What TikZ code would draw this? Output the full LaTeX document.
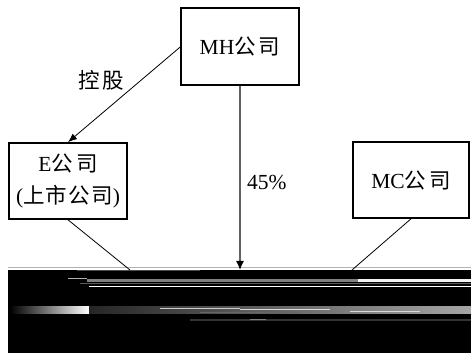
\documentclass[tikz,border=0pt]{standalone}
\usepackage{fontspec}
\setmainfont{Liberation Serif}
\newfontfamily\cjkfont{Noto Sans CJK SC}
\newcommand\zhtext[1]{{\cjkfont #1}}
\newcommand\zsp{\hspace{3pt}}
\newcommand\zss{\hspace{1.2pt}}
\usetikzlibrary{arrows.meta}
\begin{document}
\begin{tikzpicture}[x=1pt,y=-1pt,
  box/.style={draw, line width=1.6pt, inner sep=0pt, align=center,
    font=\fontsize{21.5}{32}\selectfont},
  conn/.style={draw, line width=0.8pt},
  tip/.style={-{Latex[length=9pt,width=7pt]}},
  lbl/.style={font=\fontsize{21.5}{26}\selectfont, inner sep=0pt}]
\useasboundingbox (0,0) rectangle (471,355);
\fill[white] (0,0) rectangle (471,355);
% boxes
\node[box, minimum width=118pt, minimum height=77pt] (mh) at (240,46.5) {MH\zhtext{公\zsp 司}};
\node[box, minimum width=118pt, minimum height=76pt] (e) at (68,181) {E\zhtext{公\zsp 司}\\(\zhtext{上\zss 市\zss 公\zss 司})};
\node[box, minimum width=116pt, minimum height=76pt] (mc) at (411,180) {MC\zhtext{公\zsp 司}};
% corrupted bottom region
\fill[gray!60] (8,267) rectangle (471,268.2);
\node[fill=black, minimum width=463pt, minimum height=83pt, inner sep=0pt, anchor=north west] (blk) at (8,270) {};
\fill[black!70!white] (77,270.3) rectangle (200,271.5);
\fill[gray!60] (68,278.5) rectangle (87,279.5);
\fill[gray] (87,279) rectangle (358,282);
\fill[white!90!gray] (358,279) rectangle (471,282);
\fill[gray!70!black] (80,283) rectangle (471,284);
\fill[white] (89,285.8) rectangle (471,286.8);
\shade[left color=black, right color=white] (10,306) rectangle (89,313);
\shade[left color=black!85, right color=gray!70] (90,306) rectangle (471,313);
\fill[gray!40] (160,307.5) rectangle (240,308.5);
\fill[white!85!black] (240,309) rectangle (330,310);
\fill[gray!30] (350,310.5) rectangle (420,311.5);
\fill[black!60] (200,311.5) rectangle (300,313);
\fill[black!80!white] (190,318.5) rectangle (471,320.5);
\fill[gray] (250,319) rectangle (266,320);
% connector end points on the bottom region
\coordinate (pe) at (130,270);
\coordinate (pm) at (240,270);
\coordinate (pc) at (352,270);
% connectors
\draw[conn, tip] (mh.west |- 0,47) -- (e.north);
\draw[line width=1.4pt, draw=gray!75!black, -{Latex[length=9pt,width=8pt,color=black]}] (mh.south) -- (pm);
\draw[conn] (e.south) -- (pe);
\draw[conn] (mc.south) -- (pc);
% labels
\node[lbl] (ks) at (101,80) {\zhtext{控\zsp 股}};
\node[lbl, anchor=west] (pct) at (247,182) {45\%};
\end{tikzpicture}
\end{document}
